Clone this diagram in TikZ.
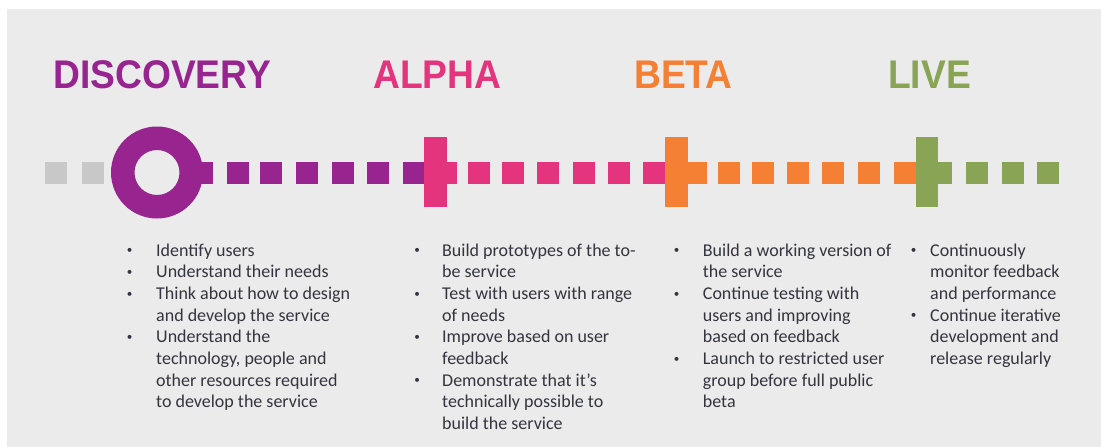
\documentclass[tikz,border=0pt]{standalone}
\usepackage{fontspec}
\usepackage{graphicx}
\setmainfont{Carlito}
\newfontfamily\titlefont{Liberation Sans}[FakeStretch=0.93]
\definecolor{cpurp}{RGB}{152,36,143}
\definecolor{cpink}{RGB}{228,52,125}
\definecolor{corange}{RGB}{245,128,52}
\definecolor{cgreen}{RGB}{136,164,84}
\definecolor{cgray}{RGB}{200,200,200}
\definecolor{cbg}{RGB}{235,235,235}
\definecolor{ctext}{RGB}{52,52,62}
\newcommand\bul{\makebox[0pt]{\raisebox{0.13em}{\scalebox{0.62}{\textbullet}}}}
\newcommand\colbox[2]{\begin{tabular}[t]{@{}p{#1}@{}l@{}}#2\end{tabular}}
\tikzset{
  title/.style={anchor=base west, inner sep=0pt, font=\titlefont\bfseries\fontsize{40}{40}\selectfont},
  bullets/.style={anchor=base west, inner sep=0pt, text=ctext, font=\fontsize{18}{21.67}\selectfont},
}
\begin{document}
\begin{tikzpicture}[x=1pt,y=-1pt]
\useasboundingbox (0,0) rectangle (1101,447);
\fill[white] (0,0) rectangle (1101,447);
\fill[cbg] (7,9) rectangle (1101,447);
% titles
\node[title, text=cpurp] (tD) at (53,88) {DISCOVERY};
\node[title, text=cpink] (tA) at (373,88) {ALPHA};
\node[title, text=corange] (tB) at (634,88) {BETA};
\node[title, text=cgreen] (tL) at (888,88) {LIVE};
% timeline squares
\foreach \x in {45,82} \fill[cgray] (\x,162) rectangle ++(22,22);
\fill[cpurp, even odd rule] (157,172.5) circle[radius=46] (157,172.5) circle[radius=22.5];
\fill[cpurp] (196,162) rectangle (213,184);
\foreach \x in {227,260,296,332,367} \fill[cpurp] (\x,162) rectangle ++(22,22);
\fill[cpurp] (403,162) rectangle (424,184);
\fill[cpink] (424,137) rectangle (447,207);
\fill[cpink] (446,162) rectangle (457,184);
\foreach \x in {468,502,537,573,608} \fill[cpink] (\x,162) rectangle ++(22,22);
\fill[cpink] (643,162) rectangle (665,184);
\fill[corange] (665,137) rectangle (688,207);
\fill[corange] (687,162) rectangle (707,184);
\foreach \x in {718,752,787,822,858} \fill[corange] (\x,162) rectangle ++(22,22);
\fill[corange] (894,162) rectangle (916,184);
\fill[cgreen] (916,137) rectangle (938,207);
\fill[cgreen] (937,162) rectangle (952,184);
\foreach \x in {966,1002,1037} \fill[cgreen] (\x,162) rectangle ++(22,22);
% bullet text
\node[bullets] (cD) at (129.5,256) {\colbox{26.5pt}{%
\bul & Identify users\\
\bul & Understand their needs\\
\bul & Think about how to design\\
 & and develop the service\\
\bul & Understand the\\
 & technology, people and\\
 & other resources required\\
 & to develop the service}};
\node[bullets] (cA) at (417,256) {\colbox{25pt}{%
\bul & Build prototypes of the to-\\
 & be service\\
\bul & Test with users with range\\
 & of needs\\
\bul & Improve based on user\\
 & feedback\\
\bul & Demonstrate that it's\\
 & technically possible to\\
 & build the service}};
\node[bullets] (cB) at (676.5,256) {\colbox{26.2pt}{%
\bul & Build a working version of\\
 & the service\\
\bul & Continue testing with\\
 & users and improving\\
 & based on feedback\\
\bul & Launch to restricted user\\
 & group before full public\\
 & beta}};
\node[bullets] (cL) at (913.5,256) {\colbox{16.5pt}{%
\bul & Continuously\\
 & monitor feedback\\
 & and performance\\
\bul & Continue iterative\\
 & development and\\
 & release regularly}};
\end{tikzpicture}
\end{document}
